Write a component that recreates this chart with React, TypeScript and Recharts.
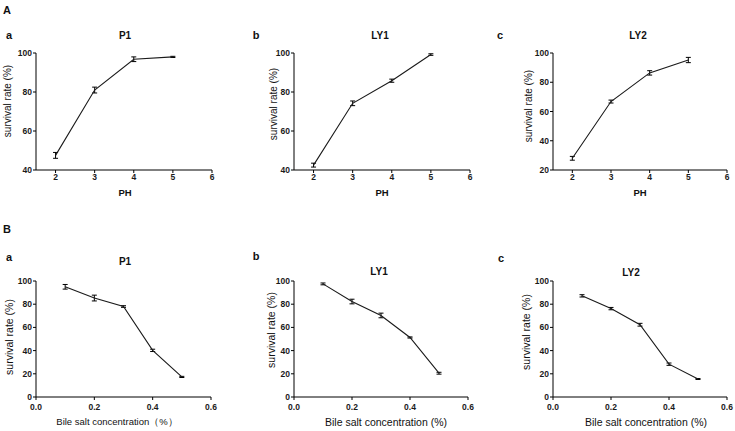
import React from "react";
import { LineChart, Line, XAxis, YAxis, ErrorBar } from "recharts";

const phLevels = [2, 3, 4, 5];
const p1Ph = [47.5, 81, 96.8, 98];
const p1PhErr = [1.5, 1.5, 1.2, 0.3];
const ly1Ph = [42.5, 74.2, 85.8, 99.2];
const ly1PhErr = [1, 1.2, 0.8, 0.4];
const ly2Ph = [28, 66.8, 86.4, 95.2];
const ly2PhErr = [1.3, 1, 1.5, 1.8];

const bileLevels = [0.1, 0.2, 0.3, 0.4, 0.5];
const p1Bile = [95, 85.3, 78, 40.2, 17.3];
const p1BileErr = [2, 2.5, 0.7, 1, 0.5];
const ly1Bile = [97.5, 82.3, 70.3, 51.3, 20.5];
const ly1BileErr = [0.8, 2, 2, 0.5, 0.8];
const ly2Bile = [87.2, 76.2, 62.3, 28.3, 15.5];
const ly2BileErr = [1, 1, 1.2, 1, 0.4];

const phTicks = [2, 3, 4, 5, 6];
const bileTicks = [0, 0.2, 0.4, 0.6];

const W = 735;
const H = 431;
const YW = 30;
const XH = 20;
const FONT = "'Liberation Sans', Arial, sans-serif";

type Rect = { left: number; right: number; top: number; bottom: number };

function rows(xs: number[], ys: number[], errs: number[]) {
    return xs.map((x, i) => ({ x, y: ys[i], err: errs[i] }));
}

function Panel({
    rect,
    data,
    xDomain,
    xTicks,
    yDomain,
    yTicks,
    decimals,
    xGap = 1,
}: {
    rect: Rect;
    data: { x: number; y: number; err: number }[];
    xDomain: [number, number];
    xTicks: number[];
    yDomain: [number, number];
    yTicks: number[];
    decimals: number;
    xGap?: number;
}) {
    const tick = { fontSize: 8.5, fontWeight: "bold", fill: "#1a1a1a", fontFamily: FONT };
    return (
        <div style={{ position: "absolute", left: 0, top: 0 }}>
            <LineChart
                width={W}
                height={H}
                data={data}
                margin={{
                    top: rect.top,
                    left: rect.left - YW,
                    right: W - rect.right,
                    bottom: H - rect.bottom - XH,
                }}
            >
                <XAxis
                    dataKey="x"
                    type="number"
                    domain={xDomain}
                    ticks={xTicks}
                    height={XH}
                    tick={tick}
                    tickSize={3}
                    tickMargin={xGap}
                    stroke="#000"
                    tickFormatter={(v: number) => v.toFixed(decimals)}
                    allowDataOverflow
                />
                <YAxis
                    type="number"
                    domain={yDomain}
                    ticks={yTicks}
                    width={YW}
                    tick={tick}
                    tickSize={3}
                    tickMargin={1}
                    stroke="#000"
                    allowDataOverflow
                />
                <Line
                    dataKey="y"
                    stroke="#1a1a1a"
                    strokeWidth={1.1}
                    dot={false}
                    isAnimationActive={false}
                >
                    <ErrorBar dataKey="err" direction="y" width={2.5} stroke="#000" strokeWidth={1} />
                </Line>
            </LineChart>
        </div>
    );
}

function Txt({
    x,
    y,
    size,
    bold,
    rotate,
    children,
}: {
    x: number;
    y: number;
    size: number;
    bold?: boolean;
    rotate?: boolean;
    children: React.ReactNode;
}) {
    return (
        <div
            style={{
                position: "absolute",
                left: x,
                top: y,
                transform: `translate(-50%, -50%)${rotate ? " rotate(-90deg)" : ""}`,
                fontSize: size,
                fontWeight: bold ? "bold" : "normal",
                lineHeight: 1,
                whiteSpace: "nowrap",
                color: "#111",
                fontFamily: FONT,
            }}
        >
            {children}
        </div>
    );
}

const yLabel = "survival rate (%)";

export default function App() {
    return (
        <div style={{ position: "absolute", left: 0, top: 0, width: W, height: H, background: "#fff", fontFamily: FONT }}>
            <Panel rect={{ left: 36, right: 212, top: 53, bottom: 170 }} data={rows(phLevels, p1Ph, p1PhErr)}
                xDomain={[1.5, 6]} xTicks={phTicks} yDomain={[40, 100]} yTicks={[40, 60, 80, 100]} decimals={0} />
            <Panel rect={{ left: 294, right: 470, top: 53, bottom: 170 }} data={rows(phLevels, ly1Ph, ly1PhErr)}
                xDomain={[1.5, 6]} xTicks={phTicks} yDomain={[40, 100]} yTicks={[40, 60, 80, 100]} decimals={0} />
            <Panel rect={{ left: 553, right: 727, top: 53, bottom: 170 }} data={rows(phLevels, ly2Ph, ly2PhErr)}
                xDomain={[1.5, 6]} xTicks={phTicks} yDomain={[20, 100]} yTicks={[20, 40, 60, 80, 100]} decimals={0} />

            <Panel rect={{ left: 36, right: 211, top: 281, bottom: 397 }} data={rows(bileLevels, p1Bile, p1BileErr)}
                xDomain={[0, 0.6]} xTicks={bileTicks} yDomain={[0, 100]} yTicks={[0, 20, 40, 60, 80, 100]} decimals={1} xGap={4} />
            <Panel rect={{ left: 294, right: 468, top: 281, bottom: 397 }} data={rows(bileLevels, ly1Bile, ly1BileErr)}
                xDomain={[0, 0.6]} xTicks={bileTicks} yDomain={[0, 100]} yTicks={[0, 20, 40, 60, 80, 100]} decimals={1} xGap={4} />
            <Panel rect={{ left: 553, right: 727, top: 281, bottom: 397 }} data={rows(bileLevels, ly2Bile, ly2BileErr)}
                xDomain={[0, 0.6]} xTicks={bileTicks} yDomain={[0, 100]} yTicks={[0, 20, 40, 60, 80, 100]} decimals={1} xGap={4} />

            {/* section A */}
            <Txt x={7} y={10} size={11} bold>A</Txt>
            <Txt x={9} y={35} size={11} bold>a</Txt>
            <Txt x={256} y={35} size={11} bold>b</Txt>
            <Txt x={500} y={35} size={11} bold>c</Txt>
            <Txt x={125} y={36} size={10} bold>P1</Txt>
            <Txt x={380} y={36} size={10} bold>LY1</Txt>
            <Txt x={638} y={36} size={10} bold>LY2</Txt>
            <Txt x={125} y={193} size={9.5} bold>PH</Txt>
            <Txt x={382} y={193} size={9.5} bold>PH</Txt>
            <Txt x={640} y={193} size={9.5} bold>PH</Txt>
            <Txt x={8} y={101} size={10} rotate>{yLabel}</Txt>
            <Txt x={274} y={104} size={10} rotate>{yLabel}</Txt>
            <Txt x={529} y={106} size={10} rotate>{yLabel}</Txt>

            {/* section B */}
            <Txt x={7} y={229} size={11} bold>B</Txt>
            <Txt x={9} y={257} size={11} bold>a</Txt>
            <Txt x={256} y={256} size={11} bold>b</Txt>
            <Txt x={501} y={258} size={11} bold>c</Txt>
            <Txt x={125} y={262} size={10} bold>P1</Txt>
            <Txt x={379} y={272} size={10} bold>LY1</Txt>
            <Txt x={631} y={273} size={10} bold>LY2</Txt>
            <Txt x={117} y={422} size={9.5}>Bile salt concentration（%）</Txt>
            <Txt x={386} y={422} size={10.5}>Bile salt concentration (%)</Txt>
            <Txt x={646} y={422} size={10.5}>Bile salt concentration (%)</Txt>
            <Txt x={9} y={337} size={10.5} rotate>{yLabel}</Txt>
            <Txt x={271} y={330} size={10.5} rotate>{yLabel}</Txt>
            <Txt x={526} y={332} size={10.5} rotate>{yLabel}</Txt>
        </div>
    );
}
